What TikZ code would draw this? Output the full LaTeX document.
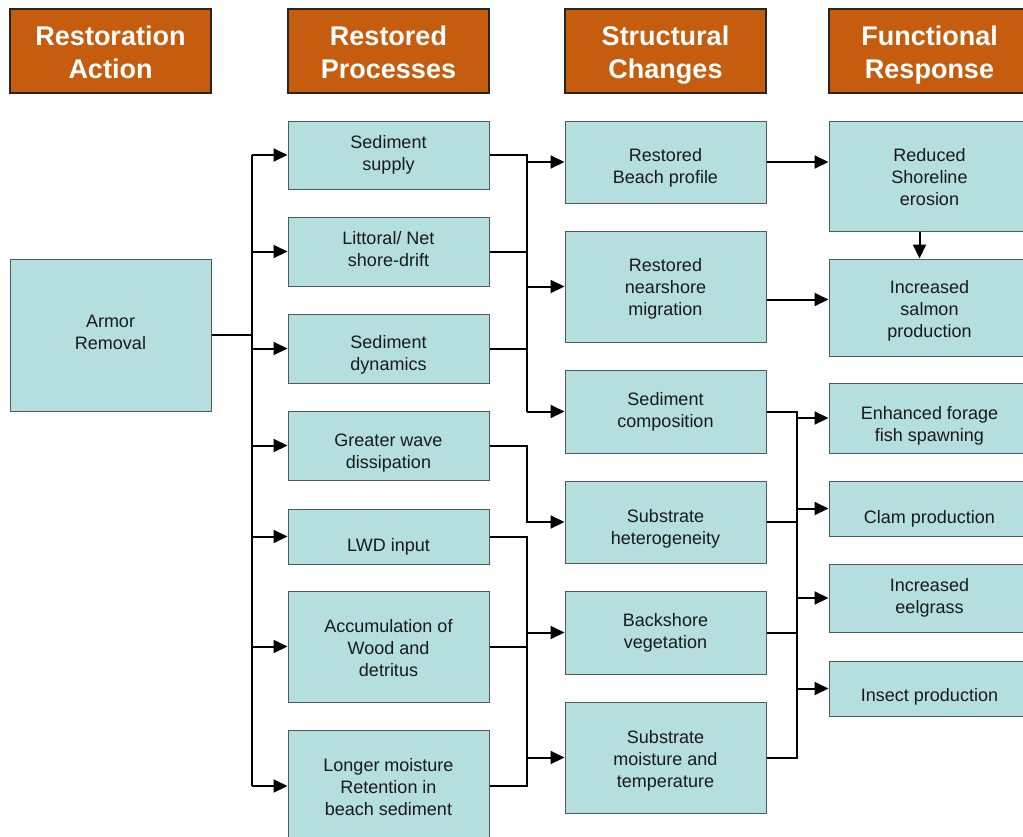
\documentclass[tikz,border=0pt]{standalone}
\usepackage{fontspec}
\setmainfont{Liberation Sans}
\usetikzlibrary{arrows.meta,calc}
\definecolor{boxfill}{HTML}{B5DEDF}
\definecolor{boxline}{HTML}{505A5A}
\definecolor{hdrfill}{HTML}{C65D0E}
\definecolor{textc}{HTML}{1A1A1A}
% \bx[down shift of text]{style}{name}{x1}{y1}{x2}{y2}{text}
\newcommand\bx[8][0]{\node[#2, minimum width={#6-#4}, minimum height={#7-#5},
  label={[#2text, yshift={-(#1)*1pt}]center:{#8}}] (#3) at ({(#4+#6)/2},{(#5+#7)/2}) {};}
\begin{document}
\begin{tikzpicture}[x=1pt,y=-1pt,
  box/.style={draw=boxline, fill=boxfill, line width=1pt, inner sep=0pt},
  boxtext/.style={align=center, inner sep=0pt, text=textc, font=\fontsize{18}{22}\selectfont},
  hdr/.style={draw=black!85, fill=hdrfill, line width=1.3pt, inner sep=0pt},
  hdrtext/.style={align=center, inner sep=0pt, text=white, font=\fontsize{27}{33}\selectfont\bfseries},
  conn/.style={line width=2pt, draw=black},
  arr/.style={-{Triangle[length=14pt,width=13pt]}}]
\useasboundingbox (0,0) rectangle (1023,836);
\clip (0,0) rectangle (1023,836);
\fill[white] (0,0) rectangle (1023,836);
% headers
\bx[1]{hdr}{h1}{10}{9}{211}{93}{Restoration\\Action}
\bx[1]{hdr}{h2}{288}{9}{489}{93}{Restored\\Processes}
\bx[4]{hdr}{h3}{565}{9}{766}{93}{Structural\\Changes}
\bx[4]{hdr}{h4}{829}{9}{1030}{93}{Functional\\Response}
% column 1
\bx[-3]{box}{arm}{10}{259}{211}{411}{Armor\\Removal}
% column 2
\bx[0]{box}{p1}{288}{121}{489}{189}{Sediment\\supply}
\bx[-2]{box}{p2}{288}{217}{489}{286}{Littoral/ Net\\shore-drift}
\bx[6]{box}{p3}{288}{314}{489}{383}{Sediment\\dynamics}
\bx[8]{box}{p4}{288}{411}{489}{480}{Greater wave\\dissipation}
\bx[10]{box}{p5}{288}{509}{489}{564}{LWD input}
\bx[2]{box}{p6}{288}{591}{489}{702}{Accumulation of\\Wood and\\detritus}
\bx[1]{box}{p7}{288}{730}{489}{842}{Longer moisture\\Retention in\\beach sediment}
% column 3
\bx[6]{box}{s1}{565}{121}{766}{203}{Restored\\Beach profile}
\bx[2]{box}{s2}{565}{231}{766}{342}{Restored\\nearshore\\migration}
\bx[0]{box}{s3}{565}{370}{766}{453}{Sediment\\composition}
\bx[7]{box}{s4}{565}{481}{766}{563}{Substrate\\heterogeneity}
\bx[0]{box}{s5}{565}{591}{766}{674}{Backshore\\vegetation}
\bx[3]{box}{s6}{565}{702}{766}{813}{Substrate\\moisture and\\temperature}
% column 4
\bx[1]{box}{f1}{829}{121}{1030}{231}{Reduced\\Shoreline\\erosion}
\bx[3]{box}{f2}{829}{259}{1030}{356}{Increased\\salmon\\production}
\bx[8]{box}{f3}{829}{383}{1030}{453}{Enhanced forage\\fish spawning}
\bx[10]{box}{f4}{829}{481}{1030}{536}{Clam production}
\bx[0]{box}{f5}{829}{564}{1030}{632}{Increased\\eelgrass}
\bx[8]{box}{f6}{829}{661}{1030}{716}{Insect production}
% bus x positions
\coordinate (b1) at (252,0);
\coordinate (b2) at (527,0);
\coordinate (b3) at (797,0);
% column 1 -> 2
\draw[conn] (arm.east) -- (arm.east -| b1);
\draw[conn] (p1.west -| b1) -- (p7.west -| b1);
\foreach \n in {p1,p2,p3,p4,p5,p6,p7} \draw[conn,arr] (\n.west -| b1) -- (\n.west);
% column 2 -> 3, group 1
\draw[conn] (p1.east) -- (p1.east -| b2) -- (s3.west -| b2);
\draw[conn] (p2.east) -- (p2.east -| b2);
\draw[conn] (p3.east) -- (p3.east -| b2);
\foreach \n in {s1,s2,s3} \draw[conn,arr] (\n.west -| b2) -- (\n.west);
% group 2
\draw[conn,arr] (p4.east) -- (p4.east -| b2) -- (s4.west -| b2) -- (s4.west);
% group 3
\draw[conn] (p5.east) -- (p5.east -| b2) -- (p7.east -| b2) -- (p7.east);
\draw[conn] (p6.east) -- (p6.east -| b2);
\foreach \n in {s5,s6} \draw[conn,arr] (\n.west -| b2) -- (\n.west);
% column 3 -> 4
\draw[conn,arr] (s1.east) -- (s1.east -| f1.west);
\draw[conn,arr] ([yshift=-13pt]s2.east) -- ([yshift=-13pt]s2.east -| f2.west);
\draw[conn,arr] ([xshift=-10pt]f1.south) -- ([xshift=-10pt]f1.south |- f2.north);
\draw[conn] (s3.east) -- (s3.east -| b3) -- (s6.east -| b3) -- (s6.east);
\draw[conn] (s4.east) -- (s4.east -| b3);
\draw[conn] (s5.east) -- (s5.east -| b3);
\foreach \n in {f3,f4,f5,f6} \draw[conn,arr] (\n.west -| b3) -- (\n.west);
\end{tikzpicture}
\end{document}
